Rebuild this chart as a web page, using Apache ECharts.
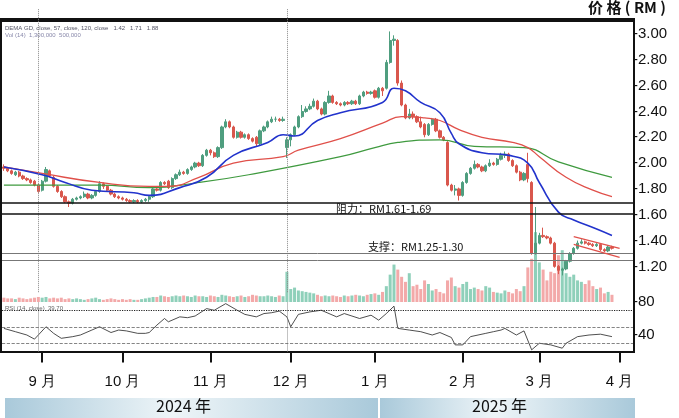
<!DOCTYPE html>
<html>
<head>
<meta charset="UTF-8">
<script src="https://cdn.jsdelivr.net/npm/echarts@6/dist/echarts.min.js"></script>
<style>
  html, body { margin: 0; padding: 0; background: #fff; }
  #main { width: 679px; height: 418px; }
</style>
</head>
<body>
<div id="main"></div>
<script>
// daily candles [open, close, low, high]
var candles = [
  [1.97,1.96,1.94,1.99],[1.96,1.94,1.93,1.97],[1.94,1.92,1.91,1.95],[1.91,1.93,1.90,1.94],[1.93,1.90,1.89,1.94],
  [1.90,1.88,1.87,1.91],[1.88,1.87,1.86,1.89],[1.87,1.85,1.84,1.88],[1.86,1.83,1.82,1.87],[1.83,1.78,1.77,1.84],
  [1.79,1.86,1.78,1.87],[1.86,1.95,1.85,1.97],[1.94,1.90,1.89,1.95],[1.89,1.82,1.81,1.90],[1.82,1.78,1.77,1.83],
  [1.78,1.74,1.73,1.79],[1.74,1.70,1.69,1.75],[1.70,1.69,1.66,1.71],[1.69,1.72,1.68,1.73],[1.72,1.73,1.71,1.74],
  [1.73,1.74,1.72,1.75],[1.74,1.76,1.73,1.78],[1.76,1.73,1.72,1.77],[1.73,1.75,1.72,1.76],[1.75,1.78,1.74,1.79],
  [1.78,1.84,1.77,1.86],[1.84,1.82,1.80,1.85],[1.82,1.79,1.78,1.83],[1.79,1.76,1.75,1.80],[1.76,1.74,1.73,1.77],
  [1.74,1.73,1.72,1.75],[1.73,1.72,1.71,1.74],[1.72,1.71,1.70,1.73],[1.71,1.70,1.69,1.72],[1.70,1.71,1.69,1.72],
  [1.71,1.70,1.69,1.72],[1.70,1.71,1.69,1.72],[1.71,1.72,1.70,1.73],[1.72,1.74,1.70,1.75],[1.74,1.80,1.73,1.81],
  [1.80,1.79,1.78,1.81],[1.79,1.85,1.78,1.86],[1.85,1.84,1.83,1.86],[1.86,1.81,1.80,1.87],[1.81,1.88,1.80,1.89],
  [1.88,1.91,1.87,1.92],[1.91,1.93,1.90,1.95],[1.93,1.92,1.91,1.94],[1.92,1.95,1.91,1.96],[1.95,1.97,1.94,1.98],
  [1.97,2.00,1.96,2.01],[2.00,1.98,1.97,2.01],[1.98,2.06,1.97,2.07],[2.06,2.10,2.05,2.11],[2.10,2.08,2.06,2.11],
  [2.08,2.05,2.04,2.09],[2.05,2.12,2.04,2.13],[2.12,2.28,2.11,2.29],[2.28,2.32,2.27,2.34],[2.32,2.28,2.27,2.33],
  [2.28,2.20,2.19,2.29],[2.20,2.24,2.19,2.25],[2.24,2.20,2.19,2.25],[2.20,2.22,2.19,2.23],[2.22,2.19,2.18,2.23],
  [2.19,2.17,2.16,2.20],[2.20,2.15,2.13,2.21],[2.15,2.25,2.14,2.26],[2.25,2.28,2.24,2.29],[2.28,2.32,2.27,2.33],
  [2.32,2.34,2.31,2.36],[2.34,2.34,2.32,2.36],[2.34,2.33,2.32,2.35],[2.33,2.34,2.32,2.36],[2.12,2.18,2.04,2.20],
  [2.18,2.22,2.13,2.23],[2.22,2.28,2.21,2.29],[2.28,2.36,2.27,2.37],[2.36,2.40,2.35,2.45],[2.40,2.42,2.39,2.44],
  [2.42,2.44,2.41,2.46],[2.44,2.48,2.43,2.50],[2.48,2.42,2.41,2.49],[2.42,2.38,2.37,2.43],[2.38,2.47,2.37,2.48],
  [2.47,2.52,2.46,2.56],[2.52,2.47,2.46,2.53],[2.47,2.46,2.45,2.48],[2.46,2.45,2.44,2.47],[2.45,2.47,2.44,2.48],
  [2.47,2.46,2.45,2.48],[2.46,2.48,2.45,2.49],[2.48,2.46,2.45,2.49],[2.46,2.52,2.45,2.53],[2.52,2.55,2.51,2.56],
  [2.55,2.54,2.53,2.56],[2.54,2.55,2.53,2.56],[2.56,2.51,2.50,2.57],[2.51,2.58,2.50,2.59],[2.58,2.56,2.52,2.59],
  [2.58,2.78,2.57,2.80],[2.78,2.95,2.77,3.02],[2.95,2.96,2.91,2.99],[2.95,2.62,2.60,2.96],[2.62,2.45,2.44,2.64],
  [2.45,2.35,2.34,2.46],[2.35,2.38,2.34,2.42],[2.38,2.36,2.34,2.40],[2.36,2.32,2.31,2.37],[2.32,2.28,2.27,2.36],
  [2.30,2.22,2.20,2.31],[2.22,2.30,2.21,2.31],[2.30,2.34,2.29,2.35],[2.34,2.25,2.24,2.35],[2.25,2.20,2.19,2.26],
  [2.20,2.18,2.17,2.21],[2.16,1.83,1.82,2.17],[1.83,1.79,1.78,1.84],[1.79,1.80,1.75,1.83],[1.80,1.75,1.71,1.81],
  [1.75,1.85,1.74,1.86],[1.85,1.92,1.84,1.93],[1.92,1.96,1.91,1.97],[1.96,1.99,1.95,2.02],[1.99,1.97,1.96,2.00],
  [1.97,1.94,1.93,1.98],[1.94,1.98,1.93,1.99],[1.98,2.00,1.97,2.03],[2.00,1.99,1.98,2.01],[1.99,2.03,1.98,2.04],
  [2.03,2.06,2.02,2.08],[2.06,2.07,2.04,2.09],[2.07,2.02,2.01,2.08],[2.02,1.98,1.97,2.03],[1.98,1.93,1.92,1.99],
  [1.93,1.87,1.86,1.94],[1.87,1.92,1.86,1.93],[1.99,1.88,1.85,2.08],[1.85,1.30,1.29,1.86],[1.30,1.38,1.29,1.66],
  [1.38,1.44,1.37,1.46],[1.44,1.43,1.42,1.50],[1.43,1.42,1.41,1.44],[1.42,1.38,1.37,1.43],[1.38,1.20,1.19,1.39],
  [1.20,1.17,1.14,1.21],[1.17,1.18,1.13,1.19],[1.18,1.24,1.17,1.25],[1.24,1.30,1.23,1.31],[1.30,1.34,1.29,1.35],
  [1.34,1.38,1.33,1.40],[1.38,1.39,1.37,1.41],[1.39,1.38,1.37,1.40],[1.38,1.37,1.36,1.39],[1.37,1.36,1.35,1.38],
  [1.36,1.37,1.35,1.38],[1.37,1.33,1.32,1.38],[1.33,1.32,1.31,1.34],[1.32,1.35,1.31,1.36],[1.35,1.34,1.33,1.36]
];
var volumes = [
  6,5,5,4,6,5,4,5,6,7, 6,7,5,6,5,6,4,5,4,5, 4,3,4,5,6,4,3,4,5,4, 3,4,3,4,3,3,4,5,6,7,
  7,9,8,7,8,9,8,9,8,7, 9,8,8,7,9,8,7,10,9,8, 7,8,9,7,8,10,9,8,8,9, 8,7,9,8,42,18,20,16,15,14,
  13,12,10,8,9,8,9,8,7,9, 8,9,10,9,8,10,11,12,10,14, 22,38,52,45,35,28,40,22,24,18, 30,25,16,18,14,12,30,34,22,20,
  25,28,18,20,18,16,22,20,14,13, 12,16,14,12,18,15,22,48,60,97, 55,45,30,42,40,65,72,40,35,38, 30,28,25,30,22,18,20,12,14,10
];
// moving averages [day index, value]
var maBlue = [[0,1.97],[10,1.91],[16,1.85],[23,1.79],[34,1.77],[38,1.75],[46,1.81],[53,1.89],[60,2.06],[69,2.16],[73,2.22],[76,2.21],
  [82,2.33],[88,2.39],[99,2.47],[102,2.58],[105,2.56],[109,2.47],[114,2.39],[117,2.23],[119,2.15],[125,2.08],[132,2.06],[137,2.00],
  [140,1.85],[145,1.62],[149,1.56],[155,1.49],[159,1.44]];
var maRed = [[0,1.97],[10,1.92],[25,1.85],[38,1.82],[43,1.82],[51,1.89],[60,2.00],[73,2.05],[77,2.10],[88,2.19],[99,2.31],[104,2.36],
  [110,2.35],[114,2.33],[119,2.26],[125,2.20],[133,2.16],[137,2.12],[140,2.05],[147,1.89],[154,1.79],[159,1.74]];
var maGreen = [[0,1.83],[25,1.83],[38,1.81],[51,1.85],[64,1.91],[88,2.05],[97,2.12],[103,2.16],[114,2.18],[123,2.13],[136,2.12],[145,2.01],[159,1.89]];
var rsi = [[0,48],[3,44],[6,40],[8,35],[11,50],[13,42],[15,36],[18,38],[20,40],[23,46],[25,50],[28,43],[30,46],[32,45],[35,42],[37,42],[38,43],
  [40,52],[42,60],[43,56],[46,62],[48,61],[50,63],[53,72],[55,70],[58,78],[61,70],[63,65],[66,62],[68,66],[70,67],[72,69],[74,62],[75,50],
  [77,65],[80,68],[83,70],[87,62],[89,66],[91,63],[93,60],[96,64],[98,58],[100,66],[102,75],[103,48],[106,46],[109,44],[112,40],[114,43],
  [117,37],[118,28],[120,28],[122,38],[126,42],[128,44],[130,46],[131,48],[134,40],[136,45],[138,22],[140,30],[143,28],[146,24],[147,30],
  [150,38],[153,40],[156,41],[159,38]];
var priceTicks = [1.2, 1.4, 1.6, 1.8, 2.0, 2.2, 2.4, 2.6, 2.8, 3.0];

// trading days 2024-08-19 .. 2025-04-04
var days = [];
var monthStart = {};
(function () {
  var d = new Date(2024, 7, 19), end = new Date(2025, 3, 4), last = -1;
  while (d <= end) {
    var w = d.getDay();
    if (w !== 0 && w !== 6) {
      if (d.getMonth() !== last && days.length > 0) monthStart[days.length] = (d.getMonth() + 1) + ' 月';
      last = d.getMonth();
      days.push(d.getFullYear() + '-' + (d.getMonth() + 1) + '-' + d.getDate());
    }
    d.setDate(d.getDate() + 1);
  }
})();

var upC = '#4f9e7f', downC = '#d9574d';
var volData = volumes.map(function (v, i) {
  var up = candles[i][1] >= candles[i][0];
  return { value: v, itemStyle: { color: up ? '#8fd0ba' : '#f3a9a9' } };
});

var myChart = echarts.init(document.getElementById('main'));
var option = {
  animation: false,
  grid: [
    { left: 2, right: 46, top: 8.2, bottom: 125.8 },
    { left: 2, right: 46, top: 230, bottom: 116 },
    { left: 2, right: 46, top: 302, height: 49.5 }
  ],
  xAxis: [
    { type: 'category', data: days, gridIndex: 0, show: false },
    { type: 'category', data: days, gridIndex: 1, show: false },
    { type: 'category', data: days, gridIndex: 2,
      axisLine: { show: false },
      axisTick: { show: true, alignWithLabel: true, length: 11, lineStyle: { color: '#111', width: 2 },
        interval: function (i) { return monthStart[i] !== undefined; } },
      axisLabel: { interval: function (i) { return monthStart[i] !== undefined; },
        formatter: function (v, i) { return monthStart[i] || ''; },
        margin: 23, fontSize: 15, color: '#111', fontFamily: 'Liberation Sans Narrow, Liberation Sans' } }
  ],
  yAxis: [
    { type: 'value', gridIndex: 0, position: 'right', min: 1.0, max: 3.2, interval: 0.2, splitLine: { show: false },
      axisLine: { show: false }, axisTick: { show: false },
      axisLabel: { margin: 0, fontSize: 15, color: '#111', fontFamily: 'Liberation Sans',
        formatter: function (v) { var r = Math.round(v * 100) / 100; return priceTicks.indexOf(r) >= 0 ? '-' + r.toFixed(2) : ''; } } },
    { type: 'value', gridIndex: 1, min: 0, max: 100, show: false },
    { type: 'value', gridIndex: 2, position: 'right', min: 20, max: 80, interval: 20, splitLine: { show: false },
      axisLine: { show: false }, axisTick: { show: false },
      axisLabel: { margin: 0, fontSize: 15, color: '#111', fontFamily: 'Liberation Sans',
        formatter: function (v) { return (v === 40 || v === 80) ? '-' + v : ''; } } }
  ],
  series: [
    { type: 'bar', xAxisIndex: 1, yAxisIndex: 1, data: volData, barWidth: 3 },
    { type: 'candlestick', xAxisIndex: 0, yAxisIndex: 0, data: candles.map(function (c) { return [c[0], c[1], c[2], c[3]]; }),
      barWidth: 2.8,
      itemStyle: { color: upC, color0: downC, borderColor: upC, borderColor0: downC, borderWidth: 1 },
      markLine: { symbol: 'none', silent: true, label: { show: false }, data: [
        { xAxis: 9, lineStyle: { color: '#888', type: 'dotted', width: 1 } },
        { xAxis: 74, lineStyle: { color: '#888', type: 'dotted', width: 1 } },
        { yAxis: 1.69, lineStyle: { color: '#111', type: 'solid', width: 1.6 } },
        { yAxis: 1.61, lineStyle: { color: '#111', type: 'solid', width: 1.6 } },
        { yAxis: 1.30, lineStyle: { color: '#777', type: 'solid', width: 1 } },
        { yAxis: 1.25, lineStyle: { color: '#777', type: 'solid', width: 1 } },
        [{ coord: [149, 1.43], lineStyle: { color: '#e0504a', type: 'solid', width: 1.2 } }, { coord: [161, 1.34] }],
        [{ coord: [149, 1.37], lineStyle: { color: '#e0504a', type: 'solid', width: 1.2 } }, { coord: [161, 1.27] }]
      ] } },
    { type: 'line', xAxisIndex: 0, yAxisIndex: 0, data: maGreen, smooth: true, showSymbol: false, lineStyle: { color: '#3f9a3f', width: 1.2 } },
    { type: 'line', xAxisIndex: 0, yAxisIndex: 0, data: maRed, smooth: true, showSymbol: false, lineStyle: { color: '#e0504a', width: 1.3 } },
    { type: 'line', xAxisIndex: 0, yAxisIndex: 0, data: maBlue, smooth: true, showSymbol: false, lineStyle: { color: '#2233cc', width: 1.6 } },
    { type: 'line', xAxisIndex: 2, yAxisIndex: 2, data: rsi, showSymbol: false, lineStyle: { color: '#222', width: 0.8 },
      markLine: { symbol: 'none', silent: true, label: { show: false }, data: [
        { xAxis: 9, lineStyle: { color: '#888', type: 'dotted', width: 1 } },
        { xAxis: 74, lineStyle: { color: '#888', type: 'dotted', width: 1 } },
        { yAxis: 70, lineStyle: { color: '#222', type: 'dotted', width: 1.2 } },
        { yAxis: 50, lineStyle: { color: '#666', type: 'dashed', width: 0.8 } },
        { yAxis: 30, lineStyle: { color: '#666', type: 'dashed', width: 0.8 } }
      ] } }
  ],
  graphic: [
    { type: 'rect', shape: { x: 1, y: 21, width: 633, height: 331 }, style: { fill: 'none', stroke: '#111', lineWidth: 2 } },
    { type: 'rect', shape: { x: 0, y: 18, width: 635, height: 3 }, style: { fill: '#111' } },
    { type: 'text', left: 588, top: 0, style: { text: '价 格 ( RM )', font: 'bold 15px "Noto Sans CJK SC"', fill: '#111' } },
    { type: 'text', left: 5, top: 25, style: { text: 'DEMA GD, close, 57, close, 120, close   1.42   1.71   1.88', font: '6px sans-serif', fill: '#556' } },
    { type: 'text', left: 5, top: 32, style: { text: 'Vol (14)  1,300,000  500,000', font: '6px sans-serif', fill: '#88a' } },
    { type: 'text', left: 5, top: 305, style: { text: 'RSI (14, close)  39.70', font: '6px sans-serif', fill: '#666' } },
    { type: 'text', left: 336, top: 203, style: { text: '阻力：RM1.61-1.69', font: '11px "Noto Sans CJK SC"', fill: '#111' } },
    { type: 'text', left: 368, top: 241, style: { text: '支撑：RM1.25-1.30', font: '11px "Noto Sans CJK SC"', fill: '#111' } },
    { type: 'rect', shape: { x: 5, y: 398, width: 373, height: 20 }, style: { fill: new echarts.graphic.LinearGradient(0, 0, 1, 0, [
      { offset: 0, color: '#a9c9da' }, { offset: 0.45, color: '#eef5f8' }, { offset: 1, color: '#a9c9da' }]) } },
    { type: 'rect', shape: { x: 380, y: 398, width: 255, height: 20 }, style: { fill: new echarts.graphic.LinearGradient(0, 0, 1, 0, [
      { offset: 0, color: '#a9c9da' }, { offset: 0.45, color: '#eef5f8' }, { offset: 1, color: '#a9c9da' }]) } },
    { type: 'text', left: 156, top: 398, style: { text: '2024 年', font: '16px "Noto Sans CJK SC"', fill: '#111' } },
    { type: 'text', left: 472, top: 398, style: { text: '2025 年', font: '16px "Noto Sans CJK SC"', fill: '#111' } }
  ]
};
myChart.setOption(option);
</script>
</body>
</html>
